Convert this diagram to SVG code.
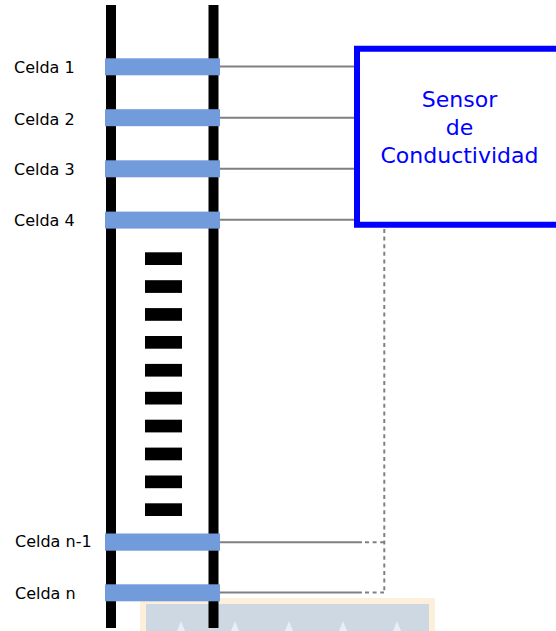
<svg xmlns="http://www.w3.org/2000/svg" width="556" height="631" viewBox="0 0 556 631">
  <style>
    .rail { fill: #000000; }
    .bar { fill: #729bdc; }
    .gap { fill: #000000; }
    .label { font-family: "DejaVu Sans", Verdana, sans-serif; font-size: 16px; fill: #000000; }
    .sensor-text { font-family: "DejaVu Sans", Verdana, sans-serif; font-size: 22px; fill: #0000ff; text-anchor: middle; }
    .wire { stroke: #808080; stroke-width: 2; fill: none; }
    .wire-dot { stroke: #808080; stroke-width: 2; fill: none; stroke-dasharray: 4 3.6; }
  </style>

  <!-- faint background emblem at the bottom -->
  <g id="emblem">
    <rect x="140" y="598" width="295" height="40" fill="#fdf0db"/>
    <rect x="146" y="604" width="283" height="34" fill="#cdd8e3"/>
    <g fill="#e9eef4">
      <polygon points="177,631 181,621 185,631"/>
      <polygon points="231,631 235,621 239,631"/>
      <polygon points="285,631 289,621 293,631"/>
      <polygon points="339,631 343,621 347,631"/>
      <polygon points="393,631 397,621 401,631"/>
    </g>
  </g>

  <!-- column rails -->
  <g id="column">
    <rect class="rail" x="106" y="5" width="10" height="623"/>
    <rect class="rail" x="208.5" y="5" width="10" height="623"/>
    <!-- ellipsis marks between cell 4 and cell n-1 -->
    <g id="ellipsis">
      <rect class="gap" x="145" y="252.3" width="37" height="12.7"/>
      <rect class="gap" x="145" y="280.2" width="37" height="12.7"/>
      <rect class="gap" x="145" y="308.1" width="37" height="12.7"/>
      <rect class="gap" x="145" y="336.0" width="37" height="12.7"/>
      <rect class="gap" x="145" y="363.9" width="37" height="12.7"/>
      <rect class="gap" x="145" y="391.8" width="37" height="12.7"/>
      <rect class="gap" x="145" y="419.7" width="37" height="12.7"/>
      <rect class="gap" x="145" y="447.6" width="37" height="12.7"/>
      <rect class="gap" x="145" y="475.5" width="37" height="12.7"/>
      <rect class="gap" x="145" y="503.3" width="37" height="12.7"/>
    </g>
  </g>

  <!-- connectors from cells to the sensor -->
  <g id="connectors">
    <line class="wire" x1="220" y1="66.5" x2="355" y2="66.5"/>
    <line class="wire" x1="220" y1="117.7" x2="355" y2="117.7"/>
    <line class="wire" x1="220" y1="168.8" x2="355" y2="168.8"/>
    <line class="wire" x1="220" y1="219.8" x2="355" y2="219.8"/>
    <line class="wire" x1="220" y1="542.2" x2="362" y2="542.2"/>
    <line class="wire" x1="220" y1="592.6" x2="362" y2="592.6"/>
    <path class="wire-dot" d="M365 542.2 H384"/>
    <path class="wire-dot" d="M365 592.6 H384"/>
    <path class="wire-dot" d="M384.3 229 V593"/>
  </g>

  <!-- cells -->
  <g id="cell-1">
    <rect class="bar" x="105" y="58.3" width="115" height="17"/>
    <text class="label" x="14" y="73.3">Celda 1</text>
  </g>
  <g id="cell-2">
    <rect class="bar" x="105" y="109.2" width="115" height="17"/>
    <text class="label" x="14" y="124.6">Celda 2</text>
  </g>
  <g id="cell-3">
    <rect class="bar" x="105" y="160.3" width="115" height="17"/>
    <text class="label" x="14" y="175.3">Celda 3</text>
  </g>
  <g id="cell-4">
    <rect class="bar" x="105" y="211.6" width="115" height="17"/>
    <text class="label" x="14" y="225.8">Celda 4</text>
  </g>
  <g id="cell-n-1">
    <rect class="bar" x="105" y="533.5" width="115" height="17.2"/>
    <text class="label" x="15" y="547">Celda n-1</text>
  </g>
  <g id="cell-n">
    <rect class="bar" x="105" y="584.3" width="115" height="17"/>
    <text class="label" x="15" y="599.3">Celda n</text>
  </g>

  <!-- conductivity sensor -->
  <g id="sensor">
    <path d="M560 48.8 H357 V224.7 H560" fill="#ffffff" stroke="#0000ff" stroke-width="6"/>
    <text class="sensor-text" x="459.5" y="106.7">Sensor</text>
    <text class="sensor-text" x="459.5" y="134.5">de</text>
    <text class="sensor-text" x="459.5" y="163.3">Conductividad</text>
  </g>
</svg>
